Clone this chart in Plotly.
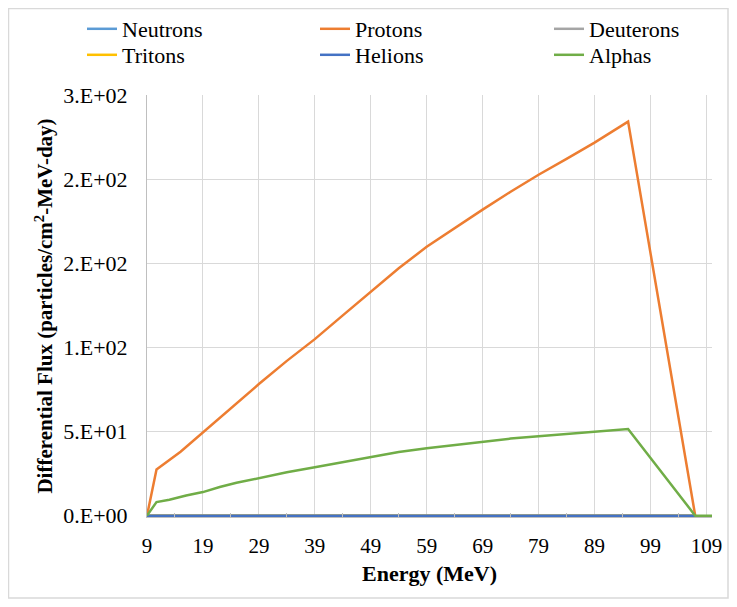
import plotly.graph_objects as go

# ---- data ----
series_names = ["Neutrons", "Protons", "Deuterons", "Tritons", "Helions", "Alphas"]
series_colors = ["#5B9BD5", "#ED7D31", "#A5A5A5", "#FFC000", "#4472C4", "#70AD47"]

zero_energy = [9, 107]
zero_flux = [0, 0]

proton_energy = [9, 10.7, 15, 19, 24, 29, 34, 39, 44, 49, 54, 59, 64, 69, 74, 79, 84, 89, 95, 107]
proton_flux = [0, 27.4, 38, 49.6, 64, 78.2, 92, 104.9, 119, 132.9, 147, 159.8, 171, 181.9,
               192.5, 202.6, 212, 221.7, 234.2, 0]

alpha_energy = [9, 10.7, 13, 16, 19, 22, 25, 29, 34, 39, 44, 49, 54, 59, 64, 69, 74, 79, 84,
                89, 95, 107, 110]
alpha_flux = [0, 8.1, 9.5, 12, 14, 17, 19.5, 22.3, 25.8, 28.8, 31.9, 34.8, 37.8, 40.1, 42.1,
              44, 45.8, 47.2, 48.6, 49.8, 51.5, 0, 0]

x_tick_vals = [9, 19, 29, 39, 49, 59, 69, 79, 89, 99, 109]
x_minor_vals = [14, 24, 34, 44, 54, 64, 74, 84, 94, 104]
y_tick_vals = [0, 50, 100, 150, 200, 250]
y_tick_text = ["0.E+00", "5.E+01", "1.E+02", "2.E+02", "2.E+02", "3.E+02"]

series_x = {
    "Neutrons": zero_energy, "Protons": proton_energy, "Deuterons": zero_energy,
    "Tritons": zero_energy, "Helions": zero_energy, "Alphas": alpha_energy,
}
series_y = {
    "Neutrons": zero_flux, "Protons": proton_flux, "Deuterons": zero_flux,
    "Tritons": zero_flux, "Helions": zero_flux, "Alphas": alpha_flux,
}

FONT = "Liberation Serif"
OFF = 8                      # page body margin
W, H = 721, 591
L, T, R, B = 139, 87, 17, 82
PW, PH = W - L - R, H - T - B
PLOT_LEFT_PAGE = L + OFF
PLOT_BOTTOM_PAGE = T + PH + OFF

# legend grid (page pixels): 3 columns x 2 rows
LEG_COL_X = [82, 315, 549]
LEG_ROW_Y = [29, 55]

def px_x(p):  # page pixel -> paper x
    return (p - PLOT_LEFT_PAGE) / PW

def px_y(p):  # page pixel -> paper y
    return (PLOT_BOTTOM_PAGE - p) / PH

fig = go.Figure()
legend_layouts = {}
for i, name in enumerate(series_names):
    lid = "legend" if i == 0 else f"legend{i + 1}"
    fig.add_trace(go.Scatter(
        x=series_x[name], y=series_y[name], mode="lines", name=name,
        line=dict(color=series_colors[i], width=2.5),
        legend=lid,
    ))
    legend_layouts[lid] = dict(
        orientation="h", xanchor="left", yanchor="middle",
        x=px_x(LEG_COL_X[i % 3]), y=px_y(LEG_ROW_Y[i // 3]),
        font=dict(family=FONT, size=22, color="#000000"),
        bgcolor="rgba(0,0,0,0)", itemwidth=30,
    )

fig.update_layout(
    width=W, height=H,
    margin=dict(l=L, r=R, t=T, b=B, autoexpand=False),
    paper_bgcolor="white", plot_bgcolor="white",
    font=dict(family=FONT, size=21, color="#000000"),
    showlegend=True,
    xaxis=dict(
        range=[9, 110], tickmode="array", tickvals=x_tick_vals,
        showgrid=True, gridcolor="#D9D9D9", gridwidth=1,
        showline=True, linecolor="#BFBFBF", ticks="", ticklabelstandoff=10,
        tickfont=dict(family=FONT, size=21, color="#000000"),
        minor=dict(tickmode="array", tickvals=x_minor_vals,
                   ticks="inside", ticklen=4, tickcolor="#BFBFBF", showgrid=False),
        title=dict(text="<b>Energy (MeV)</b>", font=dict(family=FONT, size=22), standoff=8),
        zeroline=False,
    ),
    yaxis=dict(
        range=[-0.8, 250], tickmode="array", tickvals=y_tick_vals, ticktext=y_tick_text,
        showgrid=True, gridcolor="#D9D9D9", gridwidth=1,
        showline=True, linecolor="#BFBFBF", ticks="", ticklabelstandoff=14,
        tickfont=dict(family=FONT, size=22, color="#000000"),
        title=dict(text="<b>Differential Flux (particles/cm<sup>2</sup>-MeV-day)</b>",
                   font=dict(family=FONT, size=21), standoff=4),
        zeroline=False,
    ),
    shapes=[dict(
        type="rect", xref="paper", yref="paper",
        x0=px_x(OFF + 0.5), x1=px_x(OFF + W - 1), y0=px_y(OFF + H - 1), y1=px_y(OFF + 0.5),
        line=dict(color="#D9D9D9", width=1.5), fillcolor="rgba(0,0,0,0)", layer="below",
    )],
    **legend_layouts,
)

fig.write_html("out.html")
